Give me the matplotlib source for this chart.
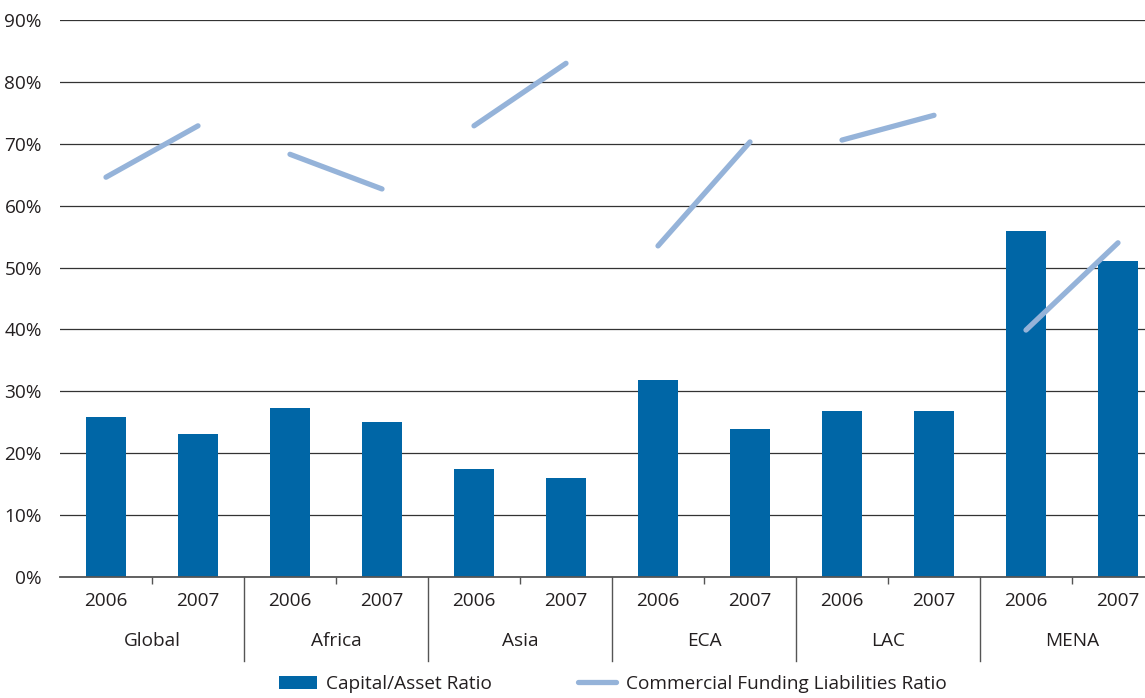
import matplotlib.pyplot as plt
import matplotlib.transforms as mtransforms
from matplotlib.patches import Patch
from matplotlib.lines import Line2D
import numpy as np

plt.rcParams['font.family'] = ['Open Sans', 'DejaVu Sans']

regions = ["Global", "Africa", "Asia", "ECA", "LAC", "MENA"]
years = ["2006", "2007"]
capital_asset = [25.8, 23.1, 27.3, 25.0, 17.4, 16.0, 31.8, 23.9, 26.8, 26.8, 55.9, 51.0]
commercial_funding = [64.6, 72.9, 68.3, 62.7, 72.9, 83.0, 53.5, 70.3, 70.6, 74.6, 39.9, 54.0]

bar_color = "#0066a6"
line_color = "#95b3d9"
text_color = "#231f20"
fs = 13.7

W, H = 1145, 698
fig = plt.figure(figsize=(W / 100, H / 100), dpi=100)
# plot area runs slightly past the right edge of the figure, as in the original
ax = fig.add_axes([60 / W, (H - 577) / H, 1104 / W, (577 - 20) / H])

x = np.arange(len(capital_asset))
ax.bar(x, capital_asset, width=0.43, color=bar_color, zorder=3)
for g in range(len(regions)):
    i = 2 * g
    ax.plot(x[i:i + 2], commercial_funding[i:i + 2], color=line_color, lw=3.8,
            solid_capstyle="round", zorder=4)

ax.set_xlim(-0.5, len(x) - 0.5)
ax.set_ylim(0, 90)
ax.set_yticks(np.arange(0, 91, 10))
ax.set_yticklabels([f"{v}%" for v in range(0, 91, 10)])
ax.grid(axis="y", color="#333333", lw=0.9, zorder=1)
ax.set_axisbelow(True)
for s in ["left", "right", "top"]:
    ax.spines[s].set_visible(False)
ax.spines["bottom"].set_color("#555555")
ax.spines["bottom"].set_linewidth(1.3)
ax.spines["bottom"].set_zorder(5)

ax.set_xticks(x)
ax.set_xticklabels(years * len(regions))
ax.set_xticks(np.arange(0.5, len(x), 2), minor=True)
ax.tick_params(axis="x", which="major", length=0, pad=11, labelsize=fs, colors=text_color)
ax.tick_params(axis="x", which="minor", length=5, color="#555555", width=1)
ax.tick_params(axis="y", length=0, pad=13, labelsize=fs, colors=text_color)

# group separators below the axis
for sep in np.arange(1.5, len(x) - 1, 2):
    ax.axvline(sep, ymin=-0.15, ymax=0, color="#555555", lw=1, clip_on=False)

trans = mtransforms.blended_transform_factory(ax.transData, ax.transAxes)
for g, name in enumerate(regions):
    ax.text(2 * g + 0.5, -0.115, name, transform=trans, ha="center", va="center",
            fontsize=fs, color=text_color)

handles = [Patch(facecolor=bar_color, edgecolor="none"),
           Line2D([0], [0], color=line_color, lw=3.8, solid_capstyle="round")]
fig.legend(handles, ["Capital/Asset Ratio", "Commercial Funding Liabilities Ratio"],
           loc="center", bbox_to_anchor=(0.535, 0.02), ncol=2, frameon=False,
           fontsize=fs, columnspacing=4.5, handlelength=2.0, handletextpad=0.5,
           labelcolor=text_color)

fig.savefig("out.png", dpi=100)
